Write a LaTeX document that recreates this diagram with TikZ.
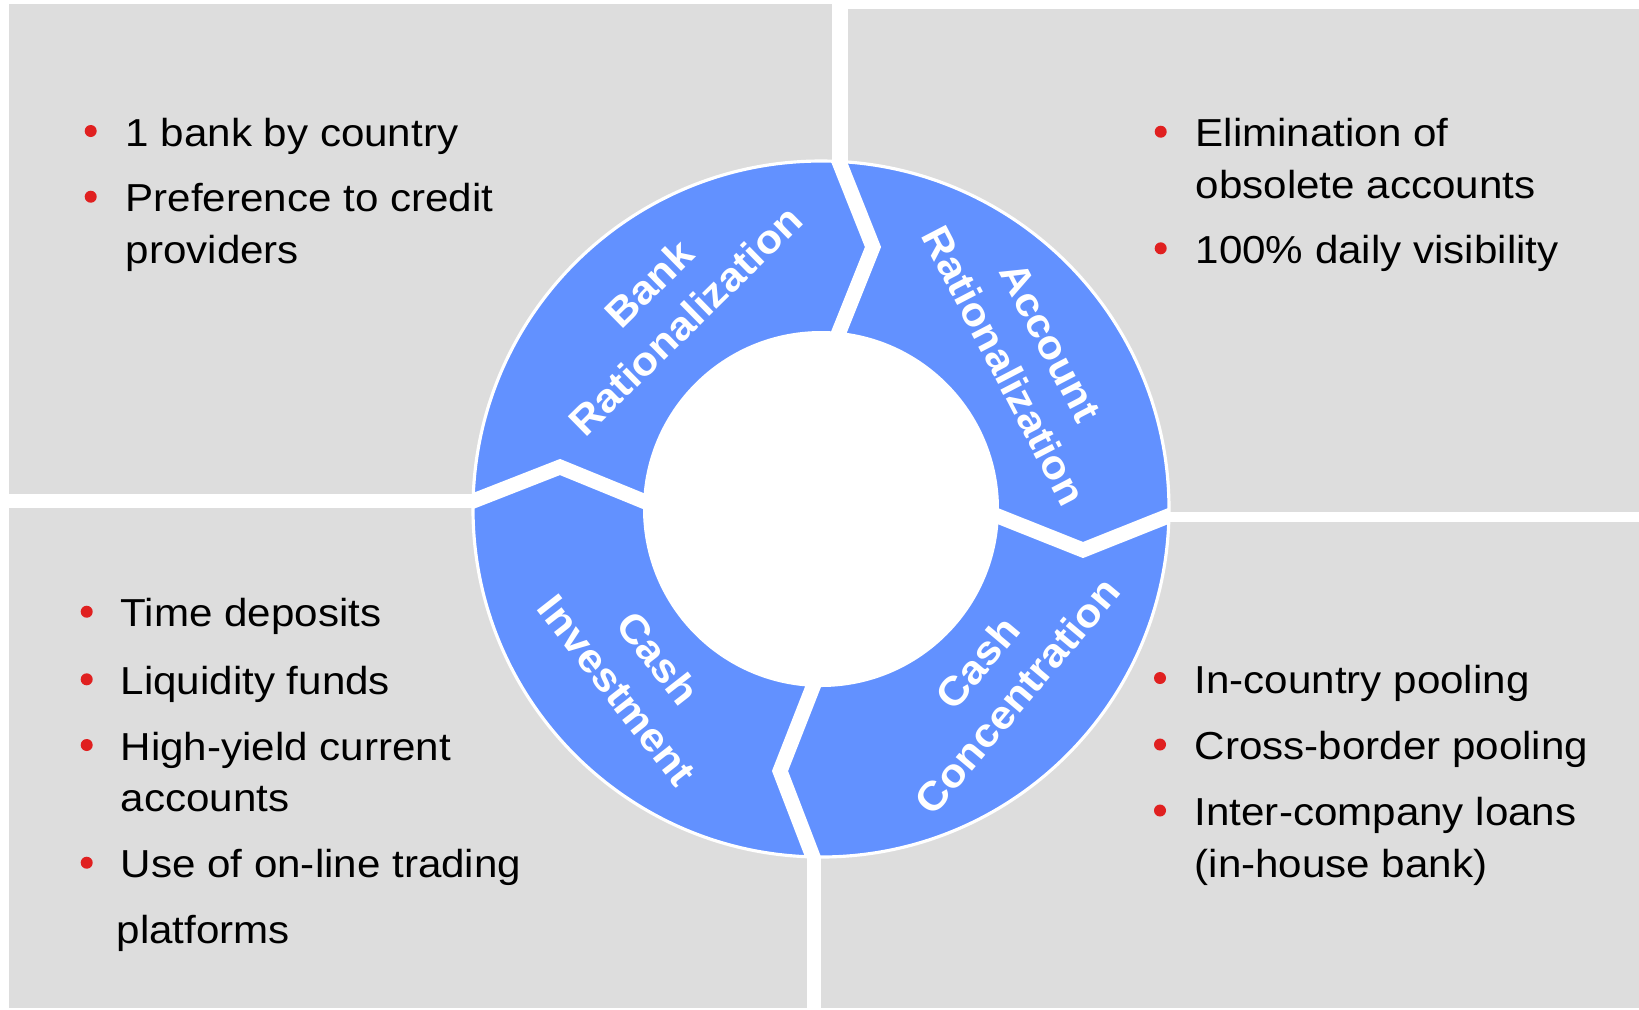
\documentclass[tikz,border=0pt]{standalone}
\usepackage{fontspec}
\setmainfont{Liberation Sans}[FakeStretch=1.08]
\definecolor{panelgray}{RGB}{221,221,221}
\definecolor{ringblue}{RGB}{98,145,255}
\definecolor{dotred}{RGB}{224,32,32}

\begin{document}
\begin{tikzpicture}[panel/.style={fill=panelgray},
	item/.style={anchor=base west,inner sep=0pt,align=left,font=\fontsize{11.1}{14.7}\selectfont},
	dot/.style={circle,fill=dotred,inner sep=0pt,minimum size=0.12cm},
	seg/.style={white,line width=0.15cm,line join=miter,shorten <=-0.3cm,shorten >=-0.3cm},
	lbl/.style={white,align=center,inner sep=0pt,font=\fontsize{11.4}{14.8}\selectfont\bfseries}]
	\useasboundingbox (0,0) rectangle (16.39,-10.09);
	
	% quadrants
	\fill[panel] (0.09,-0.04) rectangle (8.32,-4.94); \fill[panel] (8.48,-0.09) rectangle (16.39,-5.12);
	\fill[panel] (0.09,-5.08) rectangle (8.07,-10.08); \fill[panel] (8.21,-5.22) rectangle (16.39,-10.08);
	
	% ring
	\begin{scope}[shift={(8.21,-5.09)}]
		\coordinate (c) at (0,0);
		\fill[ringblue] (c) circle (3.48);
		\begin{scope}
			\clip (c) circle (3.48);
			\draw[seg] (0.18,1.771) -- (0.52,2.62) -- (0.18,3.475);
			\draw[seg] (1.766,-0.07) -- (2.62,-0.41) -- (3.473,-0.07);
			\draw[seg] (-0.08,-1.778) -- (-0.41,-2.62) -- (-0.08,-3.479);
			\draw[seg] (-1.778,0.08) -- (-2.61,0.42) -- (-3.479,0.08);
		\end{scope}
		\fill[white] (c) circle (1.78); \draw[white,line width=0.9pt] (c) circle (3.48);
		
		\node[lbl,rotate=44.5] (bank) at (-1.54,2.07) {Bank\\Rationalization};
		\node[lbl,rotate=-62.5] (account) at (2.06,1.55) {Account\\Rationalization};
		\node[lbl,rotate=50] (concentration) at (1.76,-1.70) {Cash\\Concentration};
		\node[lbl,rotate=-52] (investment) at (-1.83,-1.65) {Cash\\Investment};
	\end{scope}
	
	% top left (multi-line items sit on their last baseline)
	\node[dot] (tl1dot) at (0.907,-1.31) {}; \node[item] (tl1) at (1.25,-1.46) {1 bank by country};
	\node[dot] (tl2dot) at (0.907,-1.967) {}; \node[item] (tl2) at (1.25,-2.634) {Preference to credit\\providers};
	% top right
	\node[dot] (tr1dot) at (11.607,-1.317) {}; \node[item] (tr1) at (11.95,-1.984) {Elimination of\\obsolete accounts};
	\node[dot] (tr2dot) at (11.607,-2.483) {}; \node[item] (tr2) at (11.95,-2.633) {100\% daily visibility};
	% bottom left
	\node[dot] (bl1dot) at (0.867,-6.117) {}; \node[item] (bl1) at (1.20,-6.267) {Time deposits};
	\node[dot] (bl2dot) at (0.867,-6.793) {}; \node[item] (bl2) at (1.20,-6.943) {Liquidity funds};
	\node[dot] (bl3dot) at (0.867,-7.45) {}; \node[item] (bl3) at (1.20,-8.117) {High-yield current\\accounts};
	\node[dot] (bl4dot) at (0.867,-8.627) {}; \node[item] (bl4) at (1.20,-8.777) {Use of on-line trading};
	\node[item] (bl5) at (1.16,-9.433) {platforms};
	% bottom right
	\node[dot] (br1dot) at (11.60,-6.78) {}; \node[item] (br1) at (11.94,-6.93) {In-country pooling};
	\node[dot] (br2dot) at (11.60,-7.445) {}; \node[item] (br2) at (11.94,-7.595) {Cross-border pooling};
	\node[dot] (br3dot) at (11.60,-8.105) {}; \node[item] (br3) at (11.94,-8.772) {Inter-company loans\\(in-house bank)};
\end{tikzpicture}
\end{document}
